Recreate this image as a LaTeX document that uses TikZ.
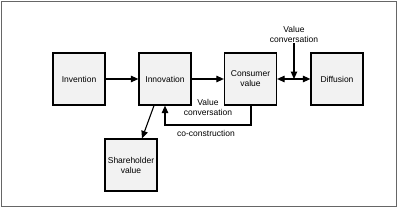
\documentclass[tikz,border=0pt]{standalone}
\usepackage{fontspec}
\setmainfont{Liberation Sans}
\usetikzlibrary{arrows.meta}
\begin{document}
\begin{tikzpicture}[x=1pt,y=-1pt,
  box/.style={draw=black,line width=1.2pt,fill=black!5,minimum width=52pt,minimum height=52pt,inner sep=0pt,align=center,font=\fontsize{8.5}{10}\selectfont},
  lbl/.style={align=center,font=\fontsize{8.5}{10.5}\selectfont,inner sep=0pt},
  conn/.style={line width=1.1pt,-{Triangle[length=7.5pt,width=6.5pt]}}]
\useasboundingbox (0,0) rectangle (400,209);
\draw[line width=1.6pt,draw=black!60] (1.5,1.5) rectangle (396.5,206.5);
\node[box] (inv) at (79,79) {Invention};
\node[box] (inn) at (165,79) {Innovation};
\node[box] (con) at (250.5,79) {Consumer\\value};
\node[box] (dif) at (337,79) {Diffusion};
\node[box] (sha) at (131,165) {Shareholder\\value};
\node[lbl] (vc1) at (294,34.5) {Value\\conversation};
\node[lbl] (vc2) at (208,107.5) {Value\\conversation};
\node[lbl] (cc) at (206,133) {co-construction};
\coordinate (mid) at (294,79);
\coordinate (fb) at (251,125);
\draw[conn] (inv) -- (inn);
\draw[conn] (inn) -- (con);
\draw[conn] (mid) -- (con.east);
\draw[conn] (mid) -- (dif.west);
\draw[conn] (vc1.south) -- (mid);
\draw[conn] ([xshift=-11pt]inn.south) -- ([xshift=11pt]sha.north);
\draw[conn] (con.south -| fb) -- (fb) -| (inn.south);
\end{tikzpicture}
\end{document}
